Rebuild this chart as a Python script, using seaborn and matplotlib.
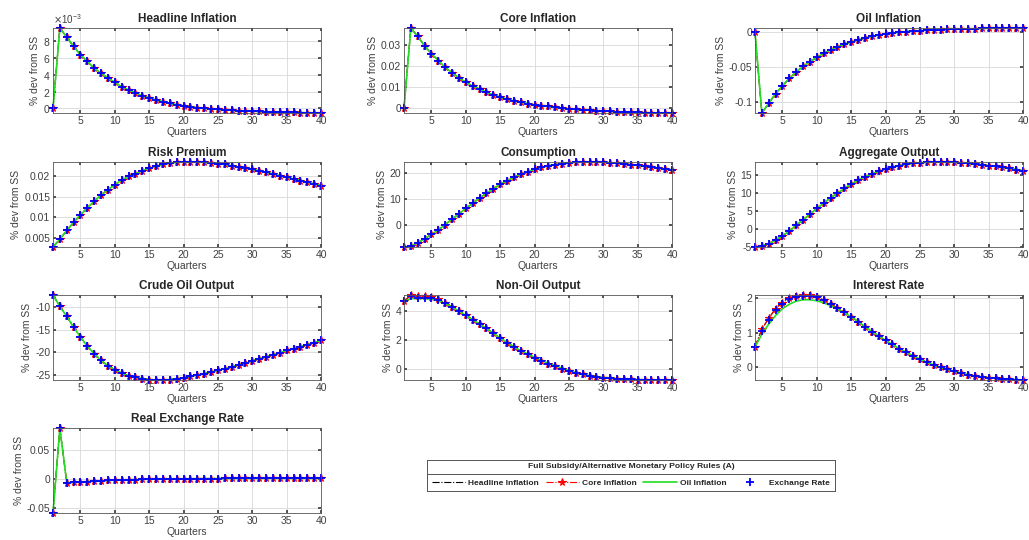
import numpy as np
import seaborn as sns
import matplotlib.pyplot as plt
from matplotlib.ticker import FuncFormatter, ScalarFormatter
from matplotlib.lines import Line2D

# impulse responses, % deviation from steady state, quarters 1..40
quarters = list(range(1, 41))

headline_infl_e3 = [0, 9.6, 8.5, 7.4, 6.4, 5.6, 4.8, 4.2, 3.6, 3.1,
                    2.6, 2.2, 1.85, 1.5, 1.25, 1.0, 0.8, 0.6, 0.45, 0.3,
                    0.2, 0.1, 0.0, -0.07, -0.13, -0.18, -0.23, -0.27, -0.31, -0.34,
                    -0.37, -0.4, -0.42, -0.44, -0.46, -0.48, -0.5, -0.52, -0.53, -0.55]
headline_infl = [v * 1e-3 for v in headline_infl_e3]

core_infl = [0, 0.038, 0.034, 0.0295, 0.0258, 0.0225, 0.0193, 0.0167, 0.0143, 0.0122,
             0.0104, 0.0089, 0.0074, 0.0062, 0.0052, 0.0042, 0.0034, 0.0027, 0.0021, 0.0015,
             0.0011, 0.0007, 0.0003, -0.0001, -0.0004, -0.0007, -0.0009, -0.0011, -0.0013, -0.0015,
             -0.0016, -0.0018, -0.0019, -0.002, -0.0021, -0.0022, -0.0023, -0.0023, -0.0024, -0.0024]

oil_infl = [0, -0.116, -0.102, -0.088, -0.077, -0.066, -0.057, -0.049, -0.042, -0.036,
            -0.030, -0.025, -0.021, -0.017, -0.014, -0.011, -0.008, -0.006, -0.004, -0.002,
            -0.001, 0.0, 0.001, 0.002, 0.0025, 0.003, 0.0035, 0.004, 0.0043, 0.0046,
            0.0049, 0.0051, 0.0053, 0.0055, 0.0057, 0.0058, 0.0059, 0.006, 0.0061, 0.0062]

risk_premium = [0.0028, 0.0047, 0.0068, 0.0088, 0.0106, 0.0123, 0.0139, 0.0154, 0.0167, 0.0179,
                0.019, 0.0199, 0.0206, 0.0213, 0.0219, 0.0224, 0.0228, 0.0231, 0.0233, 0.0234,
                0.0234, 0.0234, 0.0233, 0.0232, 0.023, 0.0228, 0.0225, 0.0222, 0.0219, 0.0216,
                0.0213, 0.0209, 0.0205, 0.0201, 0.0197, 0.0193, 0.0189, 0.0185, 0.0181, 0.0177]

consumption = [-8.4, -8.0, -6.8, -5.2, -3.6, -1.8, 0.2, 2.3, 4.3, 6.4,
               8.4, 10.4, 12.2, 14.0, 15.6, 17.0, 18.3, 19.5, 20.5, 21.4,
               22.1, 22.7, 23.2, 23.6, 23.9, 24.1, 24.2, 24.2, 24.2, 24.1,
               23.9, 23.7, 23.5, 23.2, 22.9, 22.6, 22.3, 21.9, 21.6, 21.2]

agg_output = [-5.1, -4.7, -4.2, -3.2, -2.0, -0.6, 1.0, 2.5, 4.1, 5.7,
              7.2, 8.7, 10.0, 11.3, 12.5, 13.6, 14.6, 15.4, 16.1, 16.8,
              17.3, 17.7, 18.1, 18.3, 18.5, 18.6, 18.7, 18.7, 18.7, 18.6,
              18.5, 18.3, 18.1, 17.9, 17.7, 17.5, 17.2, 16.9, 16.6, 16.3]

crude_output = [-7.4, -9.9, -12.1, -14.5, -16.6, -18.7, -20.3, -21.8, -23.0, -23.8,
                -24.6, -25.2, -25.5, -25.8, -26.0, -26.1, -26.1, -26.0, -25.8, -25.6,
                -25.3, -25.0, -24.7, -24.3, -24.0, -23.6, -23.2, -22.8, -22.4, -21.9,
                -21.4, -21.0, -20.5, -20.1, -19.6, -19.2, -18.8, -18.3, -17.9, -17.4]

nonoil_output = [4.66, 5.1, 5.0, 5.0, 4.98, 4.8, 4.55, 4.3, 4.0, 3.7,
                 3.4, 3.1, 2.8, 2.45, 2.1, 1.8, 1.5, 1.2, 1.0, 0.75,
                 0.55, 0.35, 0.2, 0.0, -0.15, -0.3, -0.4, -0.5, -0.57, -0.62,
                 -0.66, -0.7, -0.72, -0.74, -0.76, -0.77, -0.78, -0.78, -0.79, -0.79]
nonoil_output_oil = [4.66, 4.85, 4.85, 4.85, 4.82, 4.72, 4.5, 4.27, 3.98, 3.68,
                     3.38, 3.08, 2.78, 2.45, 2.12, 1.82, 1.52, 1.23, 1.02, 0.78,
                     0.57, 0.37, 0.22, 0.02, -0.13, -0.28, -0.39, -0.49, -0.56, -0.61,
                     -0.65, -0.69, -0.72, -0.74, -0.76, -0.77, -0.78, -0.78, -0.79, -0.79]
nonoil_output_fx = [4.66, 5.0, 4.9, 4.9, 4.88, 4.76, 4.52, 4.28, 3.99, 3.69,
                    3.4, 3.1, 2.8, 2.45, 2.1, 1.8, 1.5, 1.2, 1.0, 0.75,
                    0.55, 0.35, 0.2, 0.0, -0.15, -0.3, -0.4, -0.5, -0.57, -0.62,
                    -0.66, -0.7, -0.72, -0.74, -0.76, -0.77, -0.78, -0.78, -0.79, -0.79]

interest_rate = [0.58, 1.1, 1.42, 1.7, 1.88, 2.01, 2.08, 2.1, 2.1, 2.05,
                 1.95, 1.84, 1.72, 1.6, 1.47, 1.32, 1.17, 1.03, 0.9, 0.77,
                 0.65, 0.53, 0.42, 0.32, 0.22, 0.13, 0.05, -0.02, -0.08, -0.13,
                 -0.19, -0.23, -0.27, -0.3, -0.32, -0.34, -0.36, -0.37, -0.38, -0.39]
interest_rate_oil = [0.58, 0.95, 1.25, 1.5, 1.7, 1.83, 1.92, 1.96, 1.96, 1.93,
                     1.87, 1.79, 1.69, 1.58, 1.46, 1.32, 1.17, 1.03, 0.9, 0.77,
                     0.65, 0.53, 0.42, 0.32, 0.22, 0.13, 0.05, -0.02, -0.08, -0.13,
                     -0.19, -0.23, -0.27, -0.3, -0.32, -0.34, -0.36, -0.37, -0.38, -0.39]
interest_rate_fx = [0.58, 1.05, 1.38, 1.65, 1.85, 1.98, 2.05, 2.07, 2.07, 2.03,
                    1.94, 1.83, 1.71, 1.59, 1.46, 1.32, 1.17, 1.03, 0.9, 0.77,
                    0.65, 0.53, 0.42, 0.32, 0.22, 0.13, 0.05, -0.02, -0.08, -0.13,
                    -0.19, -0.23, -0.27, -0.3, -0.32, -0.34, -0.36, -0.37, -0.38, -0.39]

real_exch_rate = [-0.059, 0.0873, -0.0069, -0.0063, -0.0055, -0.0048, -0.0042, -0.0036, -0.003, -0.0025,
                  -0.002, -0.0017, -0.0014, -0.0011, -0.0009, -0.0007, -0.0005, -0.0003, -0.0002, -0.0001,
                  0.0, 0.0001, 0.0002, 0.0003, 0.0003, 0.0004, 0.0004, 0.0005, 0.0005, 0.0005,
                  0.0006, 0.0006, 0.0006, 0.0006, 0.0006, 0.0006, 0.0006, 0.0006, 0.0006, 0.0006]

rules = ["Headline Inflation", "Core Inflation", "Oil Inflation", "Exchange Rate"]

# (title, [series per rule], yticks)
panels = [
    ("Headline Inflation", [headline_infl] * 4, [0, 0.002, 0.004, 0.006, 0.008]),
    ("Core Inflation", [core_infl] * 4, [0, 0.01, 0.02, 0.03]),
    ("Oil Inflation", [oil_infl] * 4, [-0.1, -0.05, 0]),
    ("Risk Premium", [risk_premium] * 4, [0.005, 0.01, 0.015, 0.02]),
    ("Consumption", [consumption] * 4, [0, 10, 20]),
    ("Aggregate Output", [agg_output] * 4, [-5, 0, 5, 10, 15]),
    ("Crude Oil Output", [crude_output] * 4, [-25, -20, -15, -10]),
    ("Non-Oil Output", [nonoil_output, nonoil_output, nonoil_output_oil, nonoil_output_fx], [0, 2, 4]),
    ("Interest Rate", [interest_rate, interest_rate, interest_rate_oil, interest_rate_fx], [0, 1, 2]),
    ("Real Exchange Rate", [real_exch_rate] * 4, [-0.05, 0, 0.05]),
]

styles = [
    dict(color="black", linestyle="-.", linewidth=0.8, marker=None),
    dict(color="red", linestyle="-.", linewidth=0.8, marker="*", markersize=5.5,
         markeredgecolor="red", markeredgewidth=0.8),
    dict(color="#22dd22", linestyle="-", linewidth=1.2, marker=None),
    dict(color="blue", linestyle="none", linewidth=0, marker="+", markersize=6,
         markeredgecolor="blue", markeredgewidth=1.3),
]

sns.set_theme(style="ticks")
plt.rcParams["font.family"] = ["Liberation Sans", "DejaVu Sans"]
gray = "#404040"

fig = plt.figure(figsize=(10.29, 5.4), dpi=100)
W, H = 1029, 540
col_left = [53, 404, 755]
ax_w = 268
row_top = [28, 162, 295, 428]
ax_h = 85

for i, (title, series, yticks) in enumerate(panels):
    r, c = divmod(i, 3)
    ax = fig.add_axes([col_left[c] / W, 1 - (row_top[r] + ax_h) / H, ax_w / W, ax_h / H])
    for vals, st in zip(series, styles):
        sns.lineplot(x=quarters, y=vals, ax=ax, clip_on=False, **st)
    lo = min(min(s) for s in series)
    hi = max(max(s) for s in series)
    ax.set_xlim(1, 40)
    ax.set_ylim(lo, hi)
    ax.set_xticks(range(5, 41, 5))
    ax.set_yticks(yticks)
    if title == "Headline Inflation":
        fmt = ScalarFormatter(useMathText=True)
        fmt.set_powerlimits((-3, -3))
        ax.yaxis.set_major_formatter(fmt)
        ax.yaxis.get_offset_text().set_fontsize(7)
        ax.yaxis.get_offset_text().set_color(gray)
    else:
        ax.yaxis.set_major_formatter(FuncFormatter(lambda v, _: f"{v:g}"))
    ax.grid(True, color="#d8d8d8", linewidth=0.6)
    ax.tick_params(direction="in", length=2, labelsize=7.5, colors=gray,
                   top=True, right=True, pad=2)
    for sp in ax.spines.values():
        sp.set_color("#555555")
        sp.set_linewidth(0.6)
    ax.set_title(title, fontsize=8.5, fontweight="bold", pad=4.5)
    ax.set_xlabel("Quarters", fontsize=7.5, color=gray, labelpad=1)
    ax.set_ylabel("% dev from SS", fontsize=7.5, color=gray, labelpad=2)

# legend box with title row, MATLAB-style
ax_leg = fig.add_axes([427 / W, 1 - 491 / H, 408 / W, 31 / H])
ax_leg.set_xlim(0, 1)
ax_leg.set_ylim(0, 1)
ax_leg.set_xticks([])
ax_leg.set_yticks([])
for sp in ax_leg.spines.values():
    sp.set_color("#555555")
    sp.set_linewidth(0.7)
ax_leg.axhline(0.55, color="#555555", linewidth=0.7)
ax_leg.text(0.5, 0.78, "Full Subsidy/Alternative Monetary Policy Rules (A)",
            ha="center", va="center", fontsize=6.1, fontweight="bold")
handles = [Line2D([], [], **st) for st in styles]
ax_leg.legend(handles, rules, ncol=4, loc="center", bbox_to_anchor=(0.5, 0.27),
              frameon=False, prop={"weight": "bold", "size": 6},
              handlelength=4.0, columnspacing=0.8, handletextpad=0.35,
              borderpad=0, borderaxespad=0)

fig.savefig("out.png", dpi=100)
